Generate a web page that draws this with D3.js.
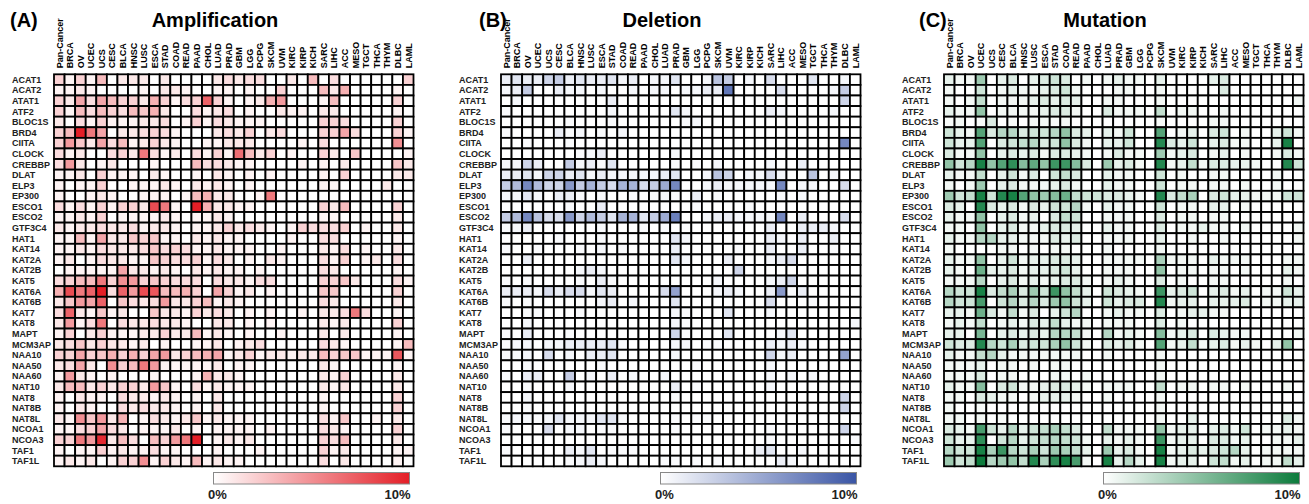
<!DOCTYPE html>
<html>
<head>
<meta charset="utf-8">
<script src="https://cdn.jsdelivr.net/npm/d3@7"></script>
<style>
  body { margin: 0; background: #fff; }
  svg { display: block; font-family: "Liberation Sans", Arial, sans-serif; }
</style>
</head>
<body>
<div id="chart"></div>
<script>
var cancers = ["Pan-Cancer","BRCA","OV","UCEC","UCS","CESC","BLCA","HNSC","LUSC","ESCA","STAD","COAD","READ","PAAD","CHOL","LUAD","PRAD","GBM","LGG","PCPG","SKCM","UVM","KIRC","KIRP","KICH","SARC","LIHC","ACC","MESO","TGCT","THCA","THYM","DLBC","LAML"];
var genes = ["ACAT1","ACAT2","ATAT1","ATF2","BLOC1S","BRD4","CIITA","CLOCK","CREBBP","DLAT","ELP3","EP300","ESCO1","ESCO2","GTF3C4","HAT1","KAT14","KAT2A","KAT2B","KAT5","KAT6A","KAT6B","KAT7","KAT8","MAPT","MCM3AP","NAA10","NAA50","NAA60","NAT10","NAT8","NAT8B","NAT8L","NCOA1","NCOA3","TAF1","TAF1L"];
var legendLabels = ["0%", "10%"];

// amplification frequency (%), one row per gene, columns follow cancers
var ampValues = [
  [2,0.5,2,0.5,3,0,1,1,1,0,1,0,0,0,0,1,1.5,1,1.5,1.5,0,0,1,0,3,0,1.5,0,0,0,0,0,0,2],
  [0.5,0.5,1,0.5,0,0,0,0,0.5,0,1,1,0.5,0,0,0.5,0.5,0,0.5,0,0,2,0,0,0,3,1,3.5,0,0,0,0,0.5,0],
  [2,1,4,1.5,4,3,2,2,1,3.5,2,0.5,1.5,2,7,2,0.5,0,0.5,1,3.5,4.5,0,0,0,0.5,3,0,0,0,0,0,2,0],
  [2,0.5,3,1.5,3,2,1.5,3,2.5,3.5,1,0,0,1.5,0.5,1,1.5,0,0.5,0,0,1,0.5,0.5,0,1,1,0,0,0,0,0,0.5,0],
  [1,0,1.5,0.5,2,0.5,0.5,0.5,1,1,1.5,0,0.5,2,0.5,1.5,1,0.5,0.5,0.5,0,0,0,0,0,2,2,1.5,0,0,0,0,2,0],
  [2,3,10,6,4,0,1,1,1.5,2,1.5,0.5,0,0,0,1,1.5,1,2,0,1,1.5,0,0,0,2,2,4,1.5,0,0,0,2,0.5],
  [2,4.5,2.5,1,4,1.5,3,0.5,1,2,1,0.5,0,0,0.5,0.5,1,1,1,0,0,0,0,0.5,0,1.5,0,0,0,0,0,0,5,0],
  [1.5,0.5,1,0,0,1.5,2,1,6,1.5,0.5,1,0,1.5,0.5,2,0.5,6.5,3,1,2,0,0.5,0,0,2,1,0,2.5,0,0,0,0,0.5],
  [1.5,4.5,1,0,0.5,1,0,0,0,0.5,0,0,0,3,1.5,1.5,1,0.5,0.5,0,0,0,0,0.5,0,0.5,0,1,0,0,0,0,2.5,1],
  [0.5,0.5,1,0,2,0.5,0.5,0.5,0,1,0.5,0,0,0.5,0,1,0.5,0,0.5,0,0.5,0,0,0,0,0.5,0,2,0,0,0,0,1,1],
  [0.5,0,0.5,0.5,2,0,0,0.5,0.5,0.5,1,0.5,0,1,0.5,1,0.5,0,0.5,0,0,0,0,0,0,0.5,0.5,0,0,0,0,1,0,0],
  [0.5,0,0,0.5,1,0.5,0,0,0.5,0.5,0.5,0,0.5,3,3.5,1,1,0,0,0.5,6,0,0,0,0,0,0,0,0,0,0,0,0,0],
  [1.5,0.5,1.5,0.5,2,0.5,2,2,1,8,6,0.5,0,10,3.5,1,1,0.5,0.5,0,0,0,0,0,0,2,1,3,0,0,0,0,2,0],
  [0.5,0.5,1,0.5,2,0,0.5,0.5,0.5,0.5,1,0.5,0,0.5,0.5,1,0.5,0,0,0,0,0,0,0,0,0.5,0.5,0,0,0,0,0,1,0],
  [1,0.5,1,1,1.5,1,1,1.5,0.5,1,1,0.5,0,0.5,0.5,1,2,1,1.5,1,0.5,0,0.5,2,1.5,1.5,1.5,2,0,0.5,0,0,1,0],
  [0.5,0.5,3,0.5,4,1,1,2.5,2,2.5,0.5,0.5,0,1,0.5,1,0.5,0.5,0,0,0,0,0.5,0,0,1.5,1.5,0,0,0,0,0,0.5,0],
  [0.5,0.5,1,0.5,1.5,1,1,1,1.5,2.5,1.5,2,1.5,0.5,0.5,1,0.5,0.5,0.5,0,0,0.5,0,0,0,1,0.5,1.5,0,0.5,0,0,1,0],
  [0.5,1,0,0.5,1.5,1,1,0.5,0.5,2.5,2,1.5,1.5,2,0.5,1.5,1,0,0.5,0,1,0.5,0,0,0,1.5,0.5,2,0,0.5,1,0,1.5,0],
  [0,0.5,0.5,0.5,0.5,0.5,4,1,1,0.5,1,0.5,0,1,0.5,1,0.5,0.5,0,0.5,0,0,0,0,0,1.5,1,0,0,0,0,0,0.5,0],
  [1.5,2,3,3,6,2,5,4.5,2,2.5,2,1.5,1.5,1.5,0,1.5,1,1,0.5,1.5,1.5,0,0,0,0,2,2,2.5,1,0,0,0,1.5,0.5],
  [3.5,8,6,7,10,1.5,7,4.5,8,7.5,3,3,3.5,2,0,4,2,0.5,1,0,0.5,0,0,0,0,2.5,2.5,0,0,0,0,0,2,0],
  [1,2.5,4.5,4,7,0,2.5,1.5,1,1.5,4.5,1,1,2,3,0.5,1,0.5,0,0,0,0,0,0,0,1.5,1,0,0,0,0,0,1,0],
  [1.5,7,1,0.5,2.5,0.5,1,0,0,2.5,1,1,0.5,2,1,1.5,1,0,0.5,0,0.5,0,0,0.5,0,1,1,1.5,6,1.5,0,0,0.5,0],
  [1,4.5,0.5,1.5,6,0,1.5,1,1,1.5,1,1,0.5,0,0,1,1,0,0.5,0,0.5,0,0,0,0,1,0.5,1,0,0,0,0,2,0],
  [0.5,2,0,1,2,0.5,0.5,0.5,1,1,2,1,1,3,0.5,1,0.5,0,0.5,0,0,0.5,0,0,0,1,0,1,0,0,0,0,0.5,0],
  [1,1.5,2.5,1,2,1,1,0.5,1,0,0.5,0,0,0.5,0.5,1,0,0.5,1,1.5,0,0,0,0,0,1.5,1,0.5,0,0,0,0,0.5,3],
  [2,2,4,2,2.5,3.5,2,3.5,2,4,4.5,1,2,3,3.5,4,0.5,1,2,0.5,1,1,0.5,1,1,3,2,2.5,2.5,0.5,0.5,0.5,7.5,0.5],
  [1,1.5,4,1,0,5,2,3,6,4.5,0.5,0.5,0.5,0.5,0.5,1,0,0.5,0.5,0,0,0,0,0,0,1,0.5,0,0,0,0,0,0.5,0],
  [0.5,4.5,1,0.5,0,0.5,0,0,0,0.5,0,0,0,0.5,3.5,1,1,0.5,0,0,0,0,0,0,0,1,0.5,2,0,0,0,0,1,0],
  [1,3,3,1,2,1,2,2,1,4.5,2.5,0.5,0,1.5,0.5,1,0.5,0.5,0.5,0,0,0,0,0,0,1,0.5,1,0,0,0,0,1,0],
  [0.5,0,1,0.5,0.5,0,1.5,1,1,0.5,1,0.5,0,0.5,0,1,0,0,0,0,0,0,0,0,0,0.5,0,0,0,0,0,0,2,0],
  [0.5,0,1,0.5,0,0,1.5,1,1.5,1,1,0.5,0,0.5,0,1,0,0,0,0,0,0,0,0,0,0.5,0,0,0,0,0,0,2,0],
  [1,0.5,5,2.5,4.5,1,3.5,0,0.5,1.5,1,0.5,1,2.5,0.5,1,0.5,0.5,0.5,0,0,0,0,0,0,1.5,0.5,2.5,0,0,0.5,0,1,0],
  [0.5,0.5,1.5,2,4,1.5,1,0,0.5,0.5,0.5,1,0,0.5,0,0.5,0.5,0.5,0.5,0,0.5,0,0,0,0,1.5,1,0.5,0,0,0,0,2,0],
  [2,2,6,4.5,9.5,1,3,1.5,0,3,2,4.5,6,10,0,0.5,1,0.5,1,0,0,0,0,0,0,2,1.5,3,0,0,0,0,1,0],
  [0.5,0,0.5,0.5,2,0.5,1,0.5,0.5,1.5,0.5,0.5,0,0,0,0.5,0,0,0,0.5,0,0,0,0,0,2,0.5,1,0,0,0,0,0.5,0.5],
  [0.5,1,0.5,1,0,0.5,2,2,5,0.5,2,1,0.5,3,0.5,1,0.5,0.5,0,0,0,0,0,0,0,1.5,0,1,0,0,0,0,0.5,0]
];

// deletion frequency (%)
var delValues = [
  [1,1.5,1,1,2.5,3,1,1.5,1,1,1.5,0.5,1,0,0.5,0.5,1.5,0,0,0.5,3.5,3,0,0.5,0,2,0,0,0,1.5,0,0,0.5,0],
  [0.5,1,3,0,0,1,0.5,0.5,0,0.5,0,0,0.5,0,0.5,0.5,0,0.5,0.5,1,1,8,0,0,0,0,2,0,0,0,0,0.5,3,0],
  [0,0.5,0,0,0,0,0,0,0,0,1,0,0,0,0,0,0,0,0,0,0,0,0,0,0,0,0,0,0,0,0,0,2.5,0],
  [0.3,0,0,0,0,0,0,0,0,0,0.5,0,0,0,0,0,1.5,0.5,0,0,0,0,0,0,0,1,0.5,0,0,0,0,0.5,0,0],
  [0,0,0,0,0,0,0.3,0,0,0,0.3,0,0,0,0,0,0,0.3,0.5,0,0,0,0,0,0,0,0,0,0,0,0,0,0,0],
  [0.3,0,0,0,0,1,0.3,0.5,0,0.3,0,0.5,0,0,0,0,0,0,0,0,0,0,0,0,0,0,0,0,0,0,0,0,0,0],
  [0,0,0.3,0,0,0,0.3,0,0,0,0,0,0,0,0,0,0,0,0,0,0,0,0,0,0,0,0,0,0,0,0,0,7,0],
  [0,0,0,0,0,0,0,0.3,0.5,1,0,0,0,0,0,0,0.5,0,0,0,0,0,0,0,0,0,0,0,0,0,0,0,0,0],
  [0.5,0.5,2.5,1,0,0,3,0.5,1,0.3,1.5,0,0,0,0,0,0.3,0,0.3,0,0.5,0,0,0,0,0.5,0,0,1,0,0,0,0,0],
  [1,1,1.5,0.5,2.5,2.5,1,1.5,0.5,1,0.5,0.5,0.5,0.5,0.5,1,1.5,0,0,0.5,3.5,2.5,0,0.5,0.5,2,0.5,0,0,3.5,0,0.5,0,0],
  [3,4,7,4,2.5,2.5,6,3,4.5,3,2,4.5,4.5,2,3,5,7,0,0,0.5,1,0.5,0.5,0.5,0.5,0.5,7,0,0.5,0.5,0,0,2,0],
  [0.5,0.5,1.5,0.5,0,1,1,0.3,0,0.3,0,0,0.3,0,0.3,0.5,0.3,0,1,0,0.3,0,0,0,0,0,0.3,0,0.5,0,0,0,0,0],
  [0,0,0,0,0,0,0.3,0,0,1,0,0,0,0,0,0,0,0,0.3,0,0,0,0,0.3,0,0,0,0,0,0,0,0,0,0],
  [3,4,7,3.5,2,2,6,2.5,4,3,1.5,4.5,4.5,1.5,3,5,7.5,0,0,0.5,1,1,0.5,0.5,0.5,0.5,7,0,1,0,0,0,2,0],
  [0.3,0.5,1,0,0,0,0,0,0,0.3,0,0,0,0.3,0,0.3,0,0,0,0,0,0,0,0,0,1,0,0,1,1,1,0.5,0,0],
  [0,0,0,0,0,0.3,0,0,0,0.3,0,0,0,0,0,0,1.5,0.5,0,0,0,0,0,0,0,1,0.5,0,1,0,0,1,0,0],
  [0.3,0,0,0.3,0,0,0,0.3,0,0.5,0,0.3,0,0,0,0,1,0,0,0,0,0,0.3,0,0,1,0,0,1,0,0,0.3,0,0],
  [0,0,1,0,0,0,0,0,0,0,0,0,0,0,0,0,1.5,0.5,0,0,0,1,0,0,0,0.5,1,2,0,0,0,0,0,0],
  [0,0,0,0,0,0,0,0.5,1,0.5,0,0,0,0,0,0,0,0,0,0,0,0,2.5,0,0,0,0,0,0,0,0,0,0,0],
  [0.3,0,0.3,0,0,0,0,0.3,0,1,0.3,0,0,0,0,0,0,0,0,0,0.5,0,0,0,0,0.5,1,2.5,0,0,0,0,0,0],
  [1,1,1,0.5,2,1,2,2,0.5,1.5,1,0,0,0,0,2,5.5,0,0,0,0.5,1,0.5,0,0,1,6,0.3,1,0,0,0,0,0],
  [0.3,0,0.3,0,0,0,0,0,0,0.5,1,0,0.5,0,0,0,1.5,0,0,0,0,0,0,0,0,2,0,0,0,0.3,0,0,0,0],
  [0,0,0.3,0.3,0,0,0,0.3,0,0,0,0,0,0,0,0,0.5,0.3,0,0,0,1.5,0,0,0,0.5,0,0,0,0,0,0,0,0],
  [0,0,0.5,0,0,0,0,0,0,0,0,0,0,0,0,0,0.5,0.3,0,0,0,0,0,0,0,0,0,0,0,0,0,0,0,0.5],
  [0.3,0,1,0,0,0,0.3,0,0,0,0,0,0,0,0,0,2.5,0.3,0,0,0,1.5,0,0,0,0,0.5,1.5,0,0,0,0,0,0],
  [0.3,0.5,0.5,0,0.5,0.5,1,1,1,1,1.5,0.3,0,0,0,0,0.5,0.5,0,0.3,0.3,0,0,0,0,1,0.5,1,0.3,0,0,0,0,0],
  [0.3,0.3,0.5,0,2,0,0.5,0,1,1,1.5,0,0,0,0,0,0.5,0,0,0,0,0,0,0,0,2.5,0.5,1,0,0,0,0,5.5,0],
  [0,0,0.3,0,0,0,0,0,0,0.3,0,0,0,0,0,0,0,0,0.3,0,0,0,0,0,0,0.5,0,0,0,0,0,0,0,0],
  [0.3,0,1,1,0,0,3,0,0.5,0,1,0,0.5,0,0,0.5,0,0,0,0,0,0,0,0,0,0.5,0,0.5,0,0.5,0,0,0,0],
  [0,0,0.3,0,0,0,0.5,0,0,0,0,0,0,0,0,0,1,0,0.3,0,0,0,0,0,0,0.5,0,0,0,0,0,0,0,0],
  [0,0,0.5,0,0,0,0,0,0,0,0,0,0,0,0,0,0.3,0,0,0,0,0,0,0,0,0,0,0,0,0,0,0,2.5,0],
  [0,0,0.3,0,0,0,0,0,0,0,0,0,0,0,0,0,0,0,0,0,0,0,0,0,0,0,0,0,0,0,0,0,2.5,0],
  [0.3,0.5,0.5,0.3,0.5,1.5,0.5,0.5,0.5,1.5,1.5,0.3,0,0,0,0,0.3,0,0.3,0.3,0,0,0,0,0,0,0,0,0,0,0,0,0,0],
  [0.3,0,0,0,2,0,0.5,0.5,0,0.3,0.3,0,0,0,0,0,0.3,0,0,0,0,0,0,0,0,0.3,0,0,0,0,0,0,2.5,0],
  [0,0,0,0,0,0,0,0,0,0,0,0,0,0,0,0,0,0,0,0,0,0,0,0,0,0.3,0,0,0,0,0,0,0,0.3],
  [0.3,0,0,0,0,0,1,0.5,1.5,0,0.3,0.3,0.3,0,0,0,0,0,0,0,0,0,0,0,1,1.5,0,0,0.5,0,0,0,0,0],
  [0,0,0,0,0,0,0.3,0.5,1,0.5,0,0,0,0,0,0.3,0.3,0,0.3,0,0.3,0,0,0,0,0,1,0.5,0,0,0,0,0,0]
];

// mutation frequency (%)
var mutValues = [
  [1,0.5,0.5,4,0,1,1.5,0,1,1.5,2,1.5,0,0.5,0,0.5,1,0.5,0.5,0,1,0,0,0,0,1,1.5,0,0,0,0,0,0,0],
  [0.5,0,0,2,0,0.5,1,0.5,0.5,1,1.5,2,0.5,0,0,0,0.5,0.5,0,0,0.5,0,0,0,0,0,1.5,0,0,0,0,0,0,0],
  [0.5,0,0.5,2.5,0,0.5,0.5,0.5,1,1.5,1,1.5,1,0,0,0.5,0.5,0,0,0,0.5,0,0,0,0,0,0,0,0,0,0,0,0,0.5],
  [1,0.5,0.5,4.5,0,0.5,0.5,0.5,0.5,1,1.5,1.5,0.5,0,0,1.5,0.5,0.5,0.5,0,2.5,0,0.5,0.5,0,0,0.5,0,0,0,0,0,0,0],
  [0.3,0.5,0,0.3,1.5,0,0.3,0,0.5,0.5,0.3,0.5,0,0,0,0,0,0,0,0,0.3,0,0,0,0,0.5,0.5,0,0,0,0,0,0,0],
  [2,1,0.5,7,1.5,3,3,1.5,2,2,3,4.5,1.5,1,0,1,0.5,2,0,0,7,0,0.5,1,0,1.5,2,0,0.5,0,0,1,2,0.5],
  [2,1,1,7,0,1.5,2,2.5,3,1.5,2,4.5,1.5,0.5,0,1,1,2,0,0,9,1.5,1,2,0,1,1.5,0.5,0.5,0,0,1,9.5,0],
  [1.5,0.5,0.5,4.5,0,1,1.5,1,1.5,0.5,1.5,1.5,1,0.5,0,0.5,1.5,0.5,0.5,0,4,0.5,1,1.5,0,0.5,1,0,0.5,0,0,0.5,1.5,0.5],
  [4.5,2,3,9.5,4.5,7,8.5,5,6.5,4.5,8,8,5,1.5,0,4,1,1.5,0.5,0,9,0.5,1,2.5,0.5,1.5,1.5,1,1,0.5,0,0,9,2],
  [1,0.5,0.5,2.5,0,1,2,0.5,1.5,0,2,2.5,1.5,0,0,1,0.5,0.5,0,0,2,0,0.5,0,0,0.5,0.5,0,0,0,0,0.5,0,0],
  [0.5,0,0.5,4,0,1,1.5,0.5,0.5,0.5,1,1.5,0.5,0,0,1,0.5,0.5,0,0,2,0,0.5,0.5,0,0.5,0.5,0,0.5,0,0,0.5,0,0],
  [4,2,2.5,9.5,2,9,9.5,7,4.5,4,5,6,2.5,2,2,1.5,1.5,1,0.5,0,9,1.5,2.5,3.5,0,1.5,2,1,1,0.5,0.5,0.5,2,2],
  [1.5,1,0,9,1.5,1,1.5,0.5,1.5,1,2,2,3,0.5,0,1,0.5,0.5,0,0,2,0,0.5,0.5,0,1,1,0,0.5,0,0,0,0,0],
  [1,0.5,0.5,4.5,0,1,1.5,0.5,1,0,1.5,2.5,2,0,0,0.5,0.5,0.5,0,0,1.5,0,0.5,0.5,0,0.5,0.5,0,0,0,0,0,0,0],
  [0.5,0.5,0,4.5,0,1,1.5,0.5,0.5,1,1.5,1.5,1,0,0,1,0.5,0.5,0,0,1.5,0,0.5,0.5,1,0.5,0.5,0,0.5,0,0,0,0,0.5],
  [1,0.5,0.5,3,3,1,1,0.5,0.5,0.5,1.5,1,1.5,0,0,0.5,0.5,0.5,0,0,1,0,0,0.5,0,0,0.5,0,0,0,0,0,0,0.5],
  [0.5,0,0,0,0,0.5,0.5,0,0.5,0,0.5,0.5,0,0,0,0.5,0,0,0,0,0.5,0,0,0,0,0,0,0,0,0,0,0,0,0],
  [1,0.5,0.5,4.5,0,1,2,0.5,1,1,1.5,1.5,1,0,0,0.5,0.5,0.5,0.5,0,3.5,0.5,0.5,0.5,0,1,0.5,0.5,0.5,0,0,0,0.5,0.5],
  [1,0.5,0,6,1,1,1.5,0.5,1,1,1.5,2,1,0,0,0.5,0.5,0.5,0,0,4.5,0,0.5,0.5,0,0.5,0.5,0,0.5,0,0,0,1,0.5],
  [0.5,0.5,0.5,3,0,1,1.5,0.5,1,0.5,1,1.5,1.5,0.5,0,0.5,1,0.5,0,0,1.5,0,0.5,0,0,0.5,0.5,0,0,0,0,0,0.5,0],
  [3,2,2,9.5,1.5,2.5,3.5,1.5,4,2,8,4.5,2.5,1,0,2,1.5,1,0.5,0,8,1,1.5,2,0,1,1.5,0.5,1,0,0.5,0.5,2,1],
  [3,2,2,7.5,0,2,3,1.5,3,1.5,4,4.5,2,1,0,2,1,1.5,1.5,0,9,0.5,1,1,0,1,1,1,1.5,0,0.5,0.5,1,1],
  [1,1,0.5,6,1.5,0.5,2.5,0.5,1.5,0,1,2,3,0,0,0.5,1,0.5,0.5,0,1.5,0,0.5,1,1,0.5,0.5,0,0,0,0,0,0,0],
  [0.5,1,0.5,2.5,0,0.5,1,0.5,1.5,1,2.5,1,0.5,0.5,0,0.5,0.5,0.5,0,0,1.5,0,0.5,0,0,0,0,0,0,0,0,0,0,0],
  [1,1,0,5.5,0,1,1.5,1,1.5,1,3,3,2.5,0.5,0,3,0.5,1,0.5,0,5,0.5,1,1.5,0,1.5,1,0.5,0.5,0,0,0,0,0.5],
  [2,1.5,1.5,9,3,2,3.5,1.5,2,2,3.5,4.5,2,0.5,0,1.5,1,1.5,0.5,0,7,0.5,1,2.5,0.5,1,1.5,0.5,1,0.5,0,1,4.5,0],
  [1,0.5,0.5,2.5,3,1,0.5,0.5,0.5,0.5,0.5,0.5,0.5,0,0,0.5,0,0,0,0,0.5,0,0,0,0,0,0,0,0,0,0,0,0,0],
  [0.5,0.5,0.5,1,0,0.5,0.5,0,0.5,0,0.5,0.5,0,0,0,0,0,0,0,0,0.5,0,0,0,0,0,0,0,0,0,0,0,0,0],
  [0.5,0.5,0.5,1.5,0,0.5,0.5,0,0,0,0.5,0.5,0,0.5,0,0,0,0,0,0,0.5,0,0,0,0,0,0,0,0,0,0,0,0,0],
  [1,0.5,0.5,5,0,1.5,2,0.5,0.5,1,1.5,1.5,1,0.5,0,0.5,0.5,0.5,0,0,2.5,0,0.5,0.5,0,0.5,0.5,0,0.5,0,0,0,0.5,0],
  [0.5,0.5,0,1.5,1,0.5,0.5,0,0.5,1,1,1,0.5,0,0,0.5,0,0,0,0,0.5,0,0,0,0,0,0,0,0,0,0,0,0,0],
  [0.5,0,0,0.3,0,0,0,0,0,0,0,0,0,0,0,0,0,0,0,0,0.5,0,0,0,0,0,0,0,0,0,0,0,0,0],
  [0.5,0.5,0,0.5,0,0.3,0,0,0,0,0,0,0,0,0,0,0,0,0,0,0.5,0,0,1,0,0,0,0,0,0,0,0,1.5,0.5],
  [1.5,1,0.5,7.5,2,1,3,1,2,2.5,3.5,2.5,1.5,0,0,2.5,0.5,0.5,0.5,0,4.5,0.5,1,1,0,1,1.5,0.5,2,0,0.5,0.5,1,0.5],
  [2,1,1,8.5,0,2,3,1,2,2.5,3,2.5,2,0.5,0,1,0.5,1,0.5,0,8,0.5,1,1,0,1.5,1.5,0.5,1,0,0,0.5,0.5,1],
  [3,2,2,9.5,3.5,8,3,2,3.5,2,4,3.5,2.5,1,0,4,1,1.5,0.5,0,9.5,0.5,1,1.5,1,1.5,2,3,1,0,0.5,0.5,0.5,0.5],
  [4,2,2.5,10,3,4,4.5,2.5,9,3.5,8.5,9.5,7.5,0.5,0,9.5,1,3,1,0,9.5,0.5,1,1,0,2,2.5,0.5,1,0,0.5,0.5,2.5,1]
];

var width = 1309, height = 504;
var gridTop = 74.3, gridW = 359.5, gridH = 392;

var panels = [
  {tag: "(A)", title: "Amplification", values: ampValues, color: "#e41f27", left: 54, tagX: 10},
  {tag: "(B)", title: "Deletion", values: delValues, color: "#3a55a5", left: 501, tagX: 479},
  {tag: "(C)", title: "Mutation", values: mutValues, color: "#0c7b3c", left: 944, tagX: 919}
];

var svg = d3.select("#chart").append("svg")
    .attr("width", width)
    .attr("height", height);

svg.append("rect").attr("width", width).attr("height", height).attr("fill", "#fff");

var defs = svg.append("defs");

panels.forEach(function(p, pi) {
  var x = d3.scaleBand().domain(cancers).range([p.left, p.left + gridW]).padding(0);
  var y = d3.scaleBand().domain(genes).range([gridTop, gridTop + gridH]).padding(0);
  var colour = d3.scaleLinear().domain([0, 10]).range(["#ffffff", p.color]).clamp(true);

  var g = svg.append("g");

  // panel tag and title
  g.append("text")
      .attr("x", p.tagX).attr("y", 27)
      .attr("font-size", 20).attr("font-weight", "bold")
      .text(p.tag);
  g.append("text")
      .attr("x", p.left + 161).attr("y", 27)
      .attr("text-anchor", "middle")
      .attr("font-size", 20).attr("font-weight", "bold")
      .text(p.title);

  // column labels
  g.selectAll("text.col")
    .data(cancers)
    .enter()
    .append("text")
      .attr("class", "col")
      .attr("transform", d => `translate(${x(d) + x.bandwidth() / 2 + 3.3}, ${gridTop - 6}) rotate(-90)`)
      .attr("font-size", 9).attr("font-weight", "bold")
      .text(d => d);

  // row labels
  g.selectAll("text.row")
    .data(genes)
    .enter()
    .append("text")
      .attr("class", "row")
      .attr("x", p.left - 42)
      .attr("y", d => y(d) + y.bandwidth() / 2)
      .attr("dy", "0.35em")
      .attr("font-size", 9).attr("font-weight", "bold")
      .attr("fill", "#222")
      .text(d => d);

  var cells = [];
  genes.forEach(function(gene, r) {
    cancers.forEach(function(c, k) {
      cells.push({gene: gene, cancer: c, v: p.values[r][k]});
    });
  });

  g.selectAll("rect.cell")
    .data(cells)
    .enter()
    .append("rect")
      .attr("class", "cell")
      .attr("x", d => x(d.cancer))
      .attr("y", d => y(d.gene))
      .attr("width", x.bandwidth())
      .attr("height", y.bandwidth())
      .attr("fill", d => colour(d.v))
      .attr("stroke", "#000")
      .attr("stroke-width", 1.8);

  // colour bar
  var gradId = "grad" + pi;
  var grad = defs.append("linearGradient").attr("id", gradId)
      .attr("x1", "0%").attr("x2", "100%").attr("y1", "0%").attr("y2", "0%");
  grad.append("stop").attr("offset", "0%").attr("stop-color", colour(0));
  grad.append("stop").attr("offset", "100%").attr("stop-color", colour(10));

  var barRight = p.left + gridW - 4;
  var barLeft = barRight - 196;
  var legendScale = d3.scaleLinear().domain([0, 1]).range([barLeft, barRight]);

  g.append("rect")
      .attr("x", barLeft).attr("y", 472.5)
      .attr("width", barRight - barLeft).attr("height", 11.5)
      .attr("fill", `url(#${gradId})`)
      .attr("stroke", "#888").attr("stroke-width", 1);

  g.selectAll("text.leg")
    .data(legendLabels)
    .enter()
    .append("text")
      .attr("class", "leg")
      .attr("x", (d, i) => i === 0 ? legendScale(0) + 4 : legendScale(1) + 1)
      .attr("y", 499)
      .attr("text-anchor", (d, i) => i === 0 ? "middle" : "end")
      .attr("font-size", 13).attr("font-weight", "bold")
      .attr("fill", "#222")
      .text(d => d);
});
</script>
</body>
</html>
